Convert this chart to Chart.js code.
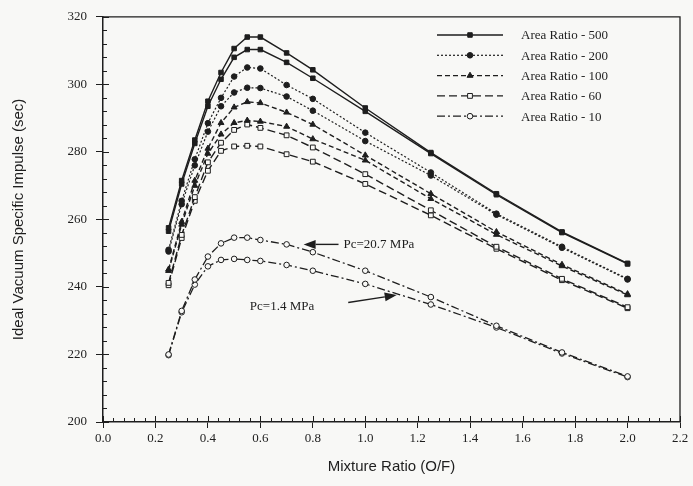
<!DOCTYPE html>
<html>
<head>
<meta charset="utf-8">
<script src="https://cdn.jsdelivr.net/npm/chart.js@4/dist/chart.umd.min.js"></script>
<style>
  html, body { margin: 0; padding: 0; background: #f8f8f6; }
  #wrap { width: 693px; height: 486px; position: relative; }
</style>
</head>
<body>
<div id="wrap"><canvas id="c" width="693" height="486"></canvas></div>
<script>
// ---- data ----
const mixtureRatio = [0.25, 0.3, 0.35, 0.4, 0.45, 0.5, 0.55, 0.6, 0.7, 0.8, 1.0, 1.25, 1.5, 1.75, 2.0];

// Pc = 20.7 MPa
const ar500_hi = [257.5, 271.5, 283.5, 295.0, 303.5, 310.6, 314.0, 314.0, 309.3, 304.3, 293.0, 279.8, 267.6, 256.3, 247.0];
const ar200_hi = [251.0, 265.5, 277.8, 288.5, 296.0, 302.3, 305.0, 304.7, 299.8, 295.7, 285.7, 273.9, 261.7, 251.9, 242.4];
const ar100_hi = [245.2, 259.3, 271.5, 281.0, 288.6, 293.2, 294.8, 294.5, 291.7, 288.1, 279.0, 267.6, 256.3, 246.6, 237.9];
const ar60_hi  = [241.2, 255.4, 266.6, 276.9, 282.7, 286.5, 288.1, 287.1, 284.9, 281.3, 273.4, 262.7, 251.9, 242.4, 234.0];
const ar10_hi  = [220.0, 232.9, 242.2, 249.0, 252.9, 254.6, 254.6, 253.9, 252.6, 250.3, 244.8, 237.0, 228.5, 220.6, 213.5];

// Pc = 1.4 MPa
const ar500_lo = [256.5, 270.5, 282.5, 293.5, 301.5, 308.0, 310.3, 310.3, 306.5, 301.8, 292.0, 279.5, 267.3, 256.1, 246.8];
const ar200_lo = [250.5, 264.5, 276.0, 286.0, 293.5, 297.6, 299.0, 298.9, 296.4, 292.2, 283.2, 273.0, 261.4, 251.6, 242.2];
const ar100_lo = [244.8, 258.5, 270.0, 279.5, 285.2, 288.6, 289.3, 289.0, 287.5, 283.8, 277.5, 266.1, 255.5, 246.2, 237.6];
const ar60_lo  = [240.5, 254.5, 265.5, 274.4, 280.3, 281.6, 281.8, 281.6, 279.3, 277.1, 270.5, 261.2, 251.3, 242.0, 233.7];
const ar10_lo  = [219.8, 232.5, 240.7, 246.1, 248.0, 248.3, 248.0, 247.7, 246.5, 244.8, 240.9, 234.8, 228.0, 220.3, 213.3];

const seriesLabels = ['Area Ratio - 500', 'Area Ratio - 200', 'Area Ratio - 100', 'Area Ratio - 60', 'Area Ratio - 10'];
const xTickValues = [0.0, 0.2, 0.4, 0.6, 0.8, 1.0, 1.2, 1.4, 1.6, 1.8, 2.0, 2.2];
const yTickValues = [200, 220, 240, 260, 280, 300, 320];
const annotationTexts = ['Pc=20.7 MPa', 'Pc=1.4 MPa'];

// ---- styles ----
const INK = '#1e1e1e';
const BG = '#f8f8f6';
const styles = [
  { dash: [],            pointStyle: 'rect',     fill: INK, radius: 3.2, width: 1.4 },
  { dash: [2, 2],        pointStyle: 'circle',   fill: INK, radius: 2.8, width: 1.2 },
  { dash: [5, 3],        pointStyle: 'triangle', fill: INK, radius: 3.4, width: 1.4 },
  { dash: [8, 4],        pointStyle: 'rect',     fill: BG,  radius: 3.4, width: 1.4 },
  { dash: [8, 3, 2, 3],  pointStyle: 'circle',   fill: BG,  radius: 2.8, width: 1.3 }
];
const pairs = [[ar500_hi, ar500_lo], [ar200_hi, ar200_lo], [ar100_hi, ar100_lo], [ar60_hi, ar60_lo], [ar10_hi, ar10_lo]];

const datasets = [];
pairs.forEach((p, i) => {
  p.forEach((vals, j) => {
    const s = styles[i];
    datasets.push({
      label: seriesLabels[i] + (j === 0 ? ' (Pc=20.7 MPa)' : ' (Pc=1.4 MPa)'),
      data: mixtureRatio.map((x, k) => ({ x: x, y: vals[k] })),
      borderColor: INK,
      borderWidth: s.width,
      borderDash: s.dash,
      pointStyle: s.pointStyle,
      pointRadius: s.radius,
      pointBackgroundColor: s.fill,
      pointBorderColor: INK,
      pointBorderWidth: 1,
      tension: 0,
      fill: false,
      _styleIndex: i,
      _primary: j === 0
    });
  });
});

const serif = "'Liberation Serif', 'DejaVu Serif', serif";
const sans = "'Liberation Sans', Arial, sans-serif";

const decorPlugin = {
  id: 'decor',
  beforeDraw(chart) {
    const ctx = chart.ctx;
    ctx.save();
    ctx.fillStyle = BG;
    ctx.fillRect(0, 0, chart.width, chart.height);
    ctx.restore();
  },
  afterDraw(chart) {
    const ctx = chart.ctx;
    const a = chart.chartArea;
    const xs = chart.scales.x, ys = chart.scales.y;
    ctx.save();
    ctx.strokeStyle = INK;
    // frame (top + right)
    ctx.lineWidth = 1.3;
    ctx.beginPath();
    ctx.moveTo(a.left, a.top); ctx.lineTo(a.right, a.top); ctx.lineTo(a.right, a.bottom);
    ctx.stroke();
    // minor + inward ticks
    ctx.lineWidth = 1;
    for (let v = 200; v <= 320 + 1e-9; v += 4) {
      const py = Math.round(ys.getPixelForValue(v)) + 0.5;
      const len = (Math.abs(v % 20) < 1e-6) ? 6 : 4;
      ctx.beginPath(); ctx.moveTo(a.left, py); ctx.lineTo(a.left + len, py); ctx.stroke();
    }
    for (let k = 0; k <= 55; k++) {
      const v = k * 0.04;
      const px = Math.round(xs.getPixelForValue(v)) + 0.5;
      const len = (k % 5 === 0) ? 6 : 4;
      ctx.beginPath(); ctx.moveTo(px, a.bottom); ctx.lineTo(px, a.bottom - len); ctx.stroke();
    }

    // legend (inside plot, upper right)
    const legX0 = 437, legX1 = 503, legText = 521, legY0 = 35, legDy = 20.3;
    ctx.font = '13px ' + serif;
    ctx.textBaseline = 'middle';
    ctx.textAlign = 'left';
    styles.forEach((s, i) => {
      const y = legY0 + i * legDy;
      ctx.strokeStyle = INK;
      ctx.lineWidth = s.width;
      ctx.setLineDash(s.dash);
      ctx.beginPath(); ctx.moveTo(legX0, y); ctx.lineTo(legX1, y); ctx.stroke();
      ctx.setLineDash([]);
      ctx.fillStyle = s.fill;
      ctx.lineWidth = 1;
      Chart.helpers.drawPoint(ctx, { pointStyle: s.pointStyle, radius: s.radius, borderWidth: 1 }, (legX0 + legX1) / 2, y);
      ctx.fillStyle = INK;
      ctx.fillText(seriesLabels[i], legText, y + 1);
    });

    // annotations with arrows
    const P = (x, y) => [xs.getPixelForValue(x), ys.getPixelForValue(y)];
    const arrow = (from, to) => {
      const [x0, y0] = P(from[0], from[1]);
      const [x1, y1] = P(to[0], to[1]);
      const ang = Math.atan2(y1 - y0, x1 - x0);
      const hl = 12, hw = 4.5;
      const bx = x1 - hl * Math.cos(ang), by = y1 - hl * Math.sin(ang);
      ctx.strokeStyle = INK; ctx.lineWidth = 1.4;
      ctx.beginPath(); ctx.moveTo(x0, y0); ctx.lineTo(bx, by); ctx.stroke();
      ctx.fillStyle = INK;
      ctx.beginPath();
      ctx.moveTo(x1, y1);
      ctx.lineTo(bx + hw * Math.sin(ang), by - hw * Math.cos(ang));
      ctx.lineTo(bx - hw * Math.sin(ang), by + hw * Math.cos(ang));
      ctx.closePath(); ctx.fill();
    };
    ctx.font = '13px ' + serif;
    ctx.fillStyle = INK;
    ctx.textAlign = 'left';
    const t1 = P(0.917, 252.6);
    ctx.fillText(annotationTexts[0], t1[0], t1[1]);
    arrow([0.898, 252.6], [0.765, 252.6]);
    const t2 = P(0.56, 234.2);
    ctx.fillStyle = INK;
    ctx.fillText(annotationTexts[1], t2[0], t2[1]);
    arrow([0.935, 235.4], [1.12, 237.6]);
    ctx.restore();
  }
};

new Chart(document.getElementById('c'), {
  type: 'line',
  data: { datasets: datasets },
  options: {
    responsive: false,
    animation: false,
    events: [],
    layout: { padding: { top: 11, right: 13, left: 0, bottom: 0 } },
    plugins: { legend: { display: false }, tooltip: { enabled: false }, title: { display: false } },
    scales: {
      x: {
        type: 'linear',
        min: 0, max: 2.2,
        afterBuildTicks: (s) => { s.ticks = xTickValues.map(v => ({ value: v })); },
        afterFit: (s) => { s.height = 64; },
        ticks: {
          callback: (v) => Number(v).toFixed(1),
          font: { family: serif, size: 13 },
          color: INK,
          padding: 3,
          maxRotation: 0,
          autoSkip: false
        },
        grid: { drawOnChartArea: false, drawTicks: true, tickLength: 6, color: INK, lineWidth: 1 },
        border: { display: true, color: INK, width: 1.5 },
        title: {
          display: true, text: 'Mixture Ratio (O/F)',
          font: { family: sans, size: 15 }, color: INK,
          padding: { top: 4, bottom: 10 }
        }
      },
      y: {
        type: 'linear',
        min: 200, max: 320,
        afterBuildTicks: (s) => { s.ticks = yTickValues.map(v => ({ value: v })); },
        afterFit: (s) => { s.width = 103; },
        ticks: {
          font: { family: serif, size: 13 },
          color: INK,
          padding: 9
        },
        grid: { drawOnChartArea: false, drawTicks: true, tickLength: 7, color: INK, lineWidth: 1 },
        border: { display: true, color: INK, width: 1.5 },
        title: {
          display: true, text: 'Ideal Vacuum Specific Impulse (sec)',
          font: { family: sans, size: 15 }, color: INK,
          padding: { top: 10, bottom: 0 }
        }
      }
    }
  },
  plugins: [decorPlugin]
});
</script>
</body>
</html>
